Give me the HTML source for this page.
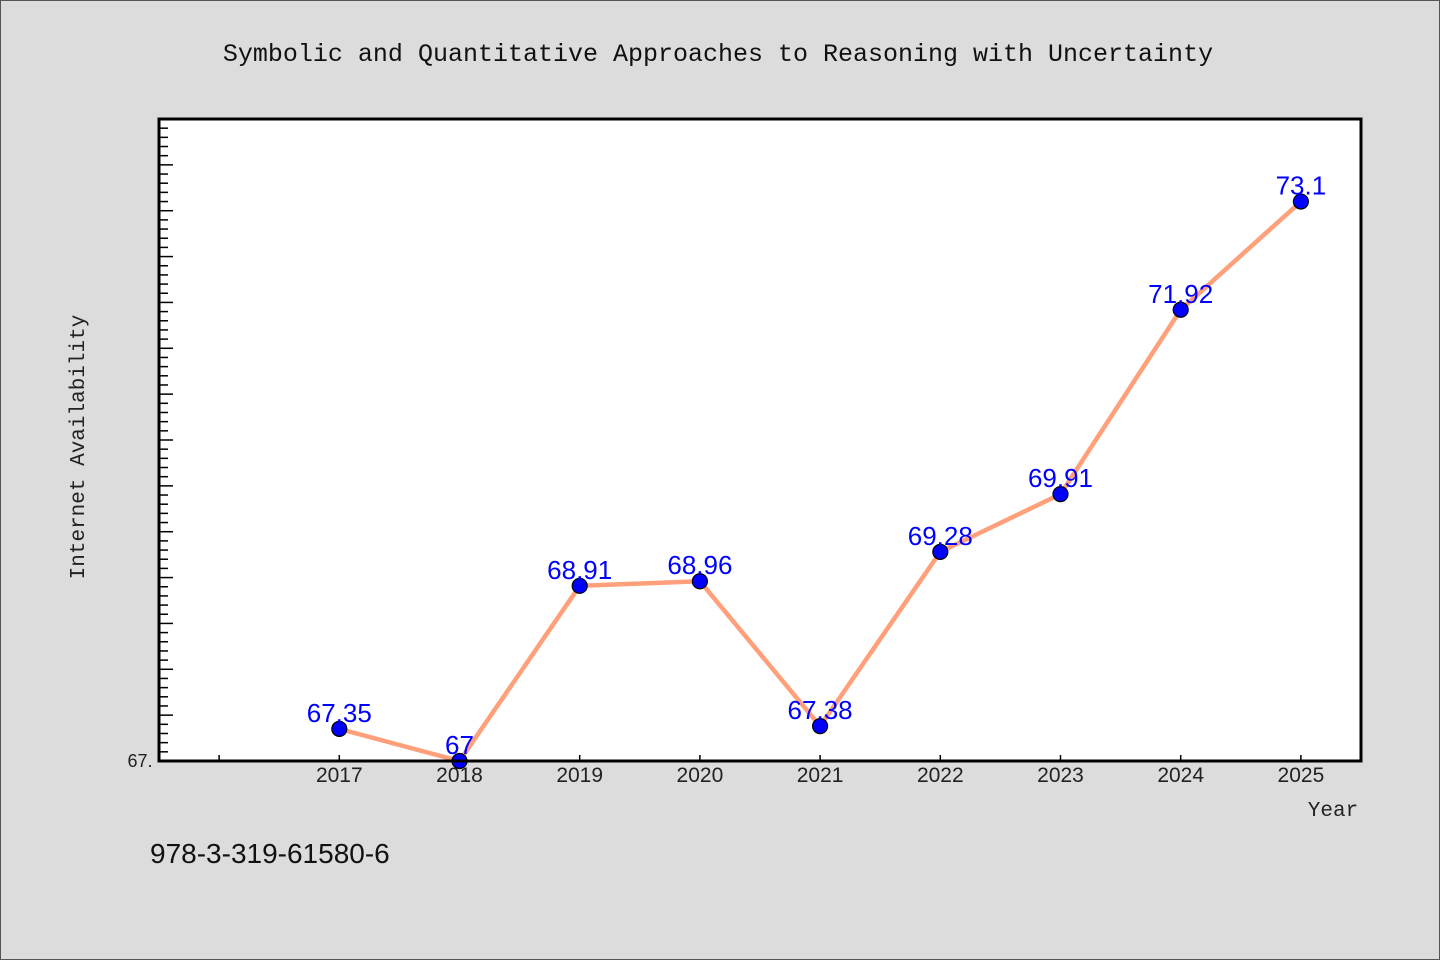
<!DOCTYPE html>
<html><head><meta charset="utf-8"><style>
html,body{margin:0;padding:0;background:#dcdcdc;}
svg{display:block;}
</style></head><body>
<svg id="chart" width="1440" height="960" xmlns="http://www.w3.org/2000/svg">
<rect x="0.5" y="0.5" width="1439" height="959" fill="#dcdcdc" stroke="#555"/>
<text x="718" y="61" text-anchor="middle" font-family="Liberation Mono, monospace" font-size="25" fill="#111">Symbolic and Quantitative Approaches to Reasoning with Uncertainty</text>
<rect x="159" y="119" width="1202" height="642" fill="#fff"/>
<g id="ticks"></g>
<g id="series"></g>
<rect x="159" y="119" width="1202" height="642" fill="none" stroke="#000" stroke-width="3"/>
<text x="140" y="767" text-anchor="middle" font-family="Liberation Sans, sans-serif" font-size="18" fill="#222">67.</text>
<text x="1333" y="816" text-anchor="middle" font-family="Liberation Mono, monospace" font-size="21" fill="#222">Year</text>
<text transform="translate(84,447) rotate(-90)" text-anchor="middle" font-family="Liberation Mono, monospace" font-size="21" fill="#222">Internet Availability</text>
<text x="150" y="863" font-family="Liberation Sans, sans-serif" font-size="28" fill="#111">978-3-319-61580-6</text>
</svg>
<script>
const years = [2017, 2018, 2019, 2020, 2021, 2022, 2023, 2024, 2025];
const values = [67.35, 67, 68.91, 68.96, 67.38, 69.28, 69.91, 71.92, 73.1];
const valueLabels = ["67.35", "67", "68.91", "68.96", "67.38", "69.28", "69.91", "71.92", "73.1"];
const xMin = 2015.5, xMax = 2025.5, yMin = 67, yMax = 74;
const L = 159, R = 1361, T = 119, B = 761;
const NS = "http://www.w3.org/2000/svg";
function xs(v){ return L + (v - xMin) / (xMax - xMin) * (R - L); }
function ys(v){ return B - (v - yMin) / (yMax - yMin) * (B - T); }
function mk(tag, attrs, parent){ const e = document.createElementNS(NS, tag); for (const k in attrs) e.setAttribute(k, attrs[k]); parent.appendChild(e); return e; }
const tg = document.getElementById('ticks');
for (let i = 1; i < 70; i++) {
  const v = yMin + i * 0.1, y = ys(v), major = i % 5 === 0;
  const t = mk('line', {x1: L, x2: L + (major ? 14 : 9), y1: y, y2: y, stroke: '#000', 'stroke-width': 1.5}, tg);
  
  
}
for (let yr = 2016; yr <= 2025; yr++) {
  const x = xs(yr);
  const t = mk('line', {x1: x, x2: x, y1: B, y2: B - 6, stroke: '#000', 'stroke-width': 1.5}, tg);
  
  
}
years.forEach(yr => {
  const t = mk('text', {x: xs(yr), y: 782, 'text-anchor': 'middle', 'font-family': 'Liberation Sans, sans-serif', 'font-size': 21, fill: '#222'}, tg);
  t.textContent = yr;
  
  
});
const sg = document.getElementById('series');
const line = mk('polyline', {points: years.map((yr, i) => xs(yr) + ',' + ys(values[i])).join(' '), fill: 'none', stroke: '#ffa07a', 'stroke-width': 4.5, 'stroke-linejoin': 'round'}, sg);


years.forEach((yr, i) => {
  const c = mk('circle', {cx: xs(yr), cy: ys(values[i]), r: 7.5, fill: '#0000ff', stroke: '#000', 'stroke-width': 1.2}, sg);
  
  
});
years.forEach((yr, i) => {
  const t = mk('text', {x: xs(yr), y: ys(values[i]) - 7, 'text-anchor': 'middle', 'font-family': 'Liberation Sans, sans-serif', 'font-size': 26, fill: '#0000ff'}, sg);
  t.textContent = valueLabels[i];
  
  
});
</script>
</body></html>
